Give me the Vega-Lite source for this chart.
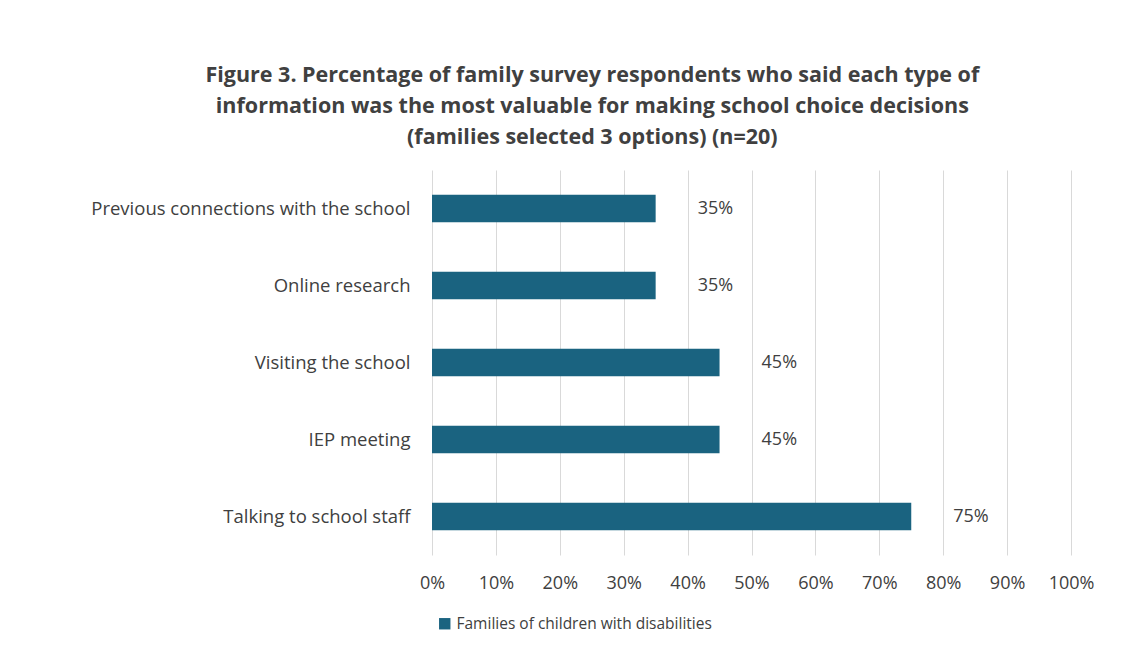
{
  "$schema": "https://vega.github.io/schema/vega-lite/v6.json",
  "width": 639,
  "height": 385,
  "padding": {"left": 90, "top": 64, "right": 40, "bottom": 20},
  "background": "white",
  "title": {
    "text": ["Figure 3. Percentage of family survey respondents who said each type of", "information was the most valuable for making school choice decisions", "(families selected 3 options) (n=20)"],
    "font": "Open Sans",
    "fontSize": 21.5,
    "fontWeight": "bold",
    "color": "#404040",
    "anchor": "middle",
    "frame": "bounds",
    "lineHeight": 31,
    "offset": 22
  },
  "config": {
    "view": {"stroke": null},
    "font": "Open Sans"
  },
  "data": {
    "values": [
      {"category": "Previous connections with the school", "value": 0.35, "series": "Families of children with disabilities"},
      {"category": "Online research", "value": 0.35, "series": "Families of children with disabilities"},
      {"category": "Visiting the school", "value": 0.45, "series": "Families of children with disabilities"},
      {"category": "IEP meeting", "value": 0.45, "series": "Families of children with disabilities"},
      {"category": "Talking to school staff", "value": 0.75, "series": "Families of children with disabilities"}
    ]
  },
  "encoding": {
    "y": {
      "field": "category",
      "type": "nominal",
      "sort": null,
      "title": null,
      "scale": {"paddingInner": 0.64, "paddingOuter": 0.32},
      "axis": {"domain": false, "ticks": false, "labelFontSize": 18.5, "labelColor": "#404040", "labelPadding": 22, "labelLimit": 400}
    },
    "x": {
      "field": "value",
      "type": "quantitative",
      "title": null,
      "scale": {"domain": [0, 1]},
      "axis": {"format": "%", "values": [0, 0.1, 0.2, 0.3, 0.4, 0.5, 0.6, 0.7, 0.8, 0.9, 1.0], "domain": false, "ticks": false, "grid": true, "gridColor": "#d9d9d9", "labelFontSize": 18, "labelColor": "#404040", "labelPadding": 19, "labelFlush": false, "labelOverlap": false}
    }
  },
  "layer": [
    {
      "mark": {"type": "bar"},
      "encoding": {
        "color": {
          "field": "series",
          "type": "nominal",
          "scale": {"range": ["#1A6380"]},
          "legend": {"orient": "bottom", "title": null, "symbolType": "square", "symbolSize": 130, "labelFontSize": 15.5, "labelColor": "#404040", "labelLimit": 500, "offset": 19, "padding": 5, "symbolStrokeWidth": 0}
        }
      }
    },
    {
      "mark": {"type": "text", "align": "left", "dx": 42, "fontSize": 18, "color": "#404040"},
      "encoding": {
        "text": {"field": "value", "type": "quantitative", "format": ".0%"}
      }
    }
  ]
}
